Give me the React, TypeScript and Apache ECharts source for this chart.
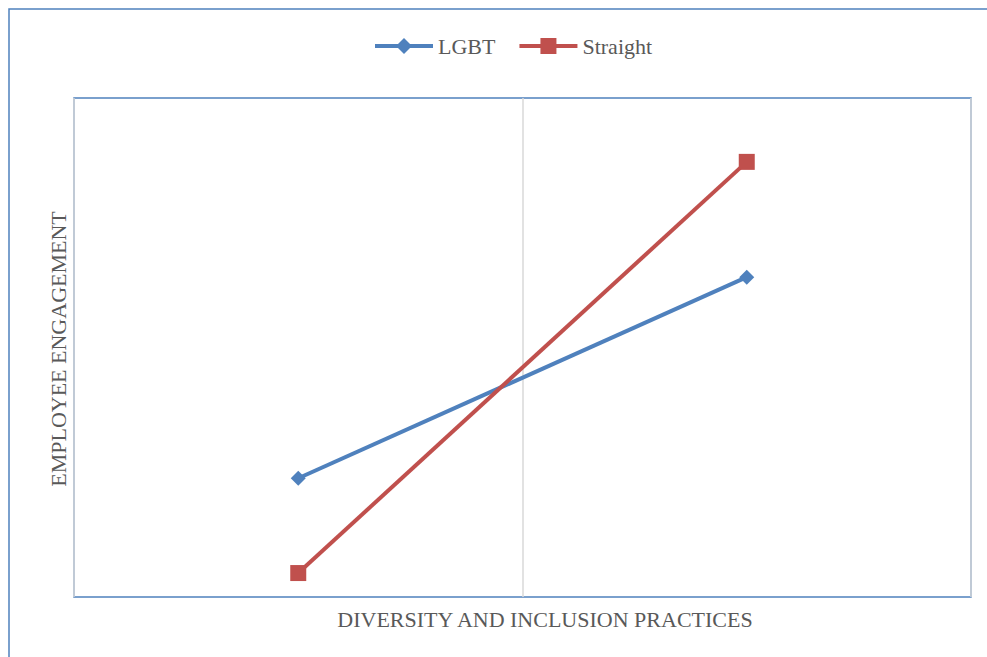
import React, { useEffect, useRef } from "react";
import * as echarts from "echarts";

const categories = ["Low", "High"];
const lgbtValues = [2.38, 6.41];
const straightValues = [0.48, 8.72];
const xTitle = "DIVERSITY AND INCLUSION PRACTICES";
const yTitle = "EMPLOYEE ENGAGEMENT";

const FONT = "Liberation Serif";
const TEXT = "#595959";
const BLUE = "#4F81BD";
const RED = "#C0504D";

export default function App() {
  const ref = useRef<HTMLDivElement>(null);
  useEffect(() => {
    document.body.style.margin = "0";
    const chart = echarts.init(ref.current!, null, { renderer: "svg" });
    chart.setOption({
      animation: false,
      backgroundColor: "#ffffff",
      legend: {
        top: 30,
        left: 368,
        itemWidth: 58,
        itemHeight: 20,
        itemGap: 22,
        lineStyle: { width: 4 },
        textStyle: { fontFamily: "serif", fontSize: 22, color: TEXT },
        data: ["LGBT", "Straight"],
      },
      grid: {
        left: 74,
        top: 98,
        right: 16,
        bottom: 60,
        show: true,
        borderColor: BLUE,
        borderWidth: 1.5,
        backgroundColor: "transparent",
      },
      xAxis: {
        type: "category",
        data: categories,
        boundaryGap: true,
        axisLine: { show: false },
        axisTick: { show: false },
        axisLabel: { show: false },
        splitLine: { show: true, lineStyle: { color: "#D9D9D9", width: 1.5 } },
      },
      yAxis: {
        type: "value",
        min: 0,
        max: 10,
        axisLine: { show: false },
        axisTick: { show: false },
        axisLabel: { show: false },
        splitLine: { show: false },
      },
      graphic: [
        {
          type: "rect",
          shape: { x: 9, y: 9, width: 1100, height: 800 },
          style: { fill: "none", stroke: BLUE, lineWidth: 1.5 },
          silent: true,
          z: -1,
        },
        {
          type: "text",
          x: 545,
          y: 619,
          style: {
            text: xTitle,
            font: `22px ${FONT}`,
            fill: TEXT,
            align: "center",
            verticalAlign: "middle",
          },
        },
        {
          type: "text",
          x: 58,
          y: 349,
          rotation: Math.PI / 2,
          style: {
            text: yTitle,
            font: `22px ${FONT}`,
            fill: TEXT,
            align: "center",
            verticalAlign: "middle",
          },
        },
      ],
      series: [
        {
          name: "LGBT",
          type: "line",
          data: lgbtValues,
          symbol: "diamond",
          symbolSize: 15,
          lineStyle: { color: BLUE, width: 4 },
          itemStyle: { color: BLUE },
        },
        {
          name: "Straight",
          type: "line",
          data: straightValues,
          symbol: "rect",
          symbolSize: 16,
          lineStyle: { color: RED, width: 4 },
          itemStyle: { color: RED },
        },
      ],
    });
    return () => chart.dispose();
  }, []);
  return <div ref={ref} style={{ width: 987, height: 657 }} />;
}
